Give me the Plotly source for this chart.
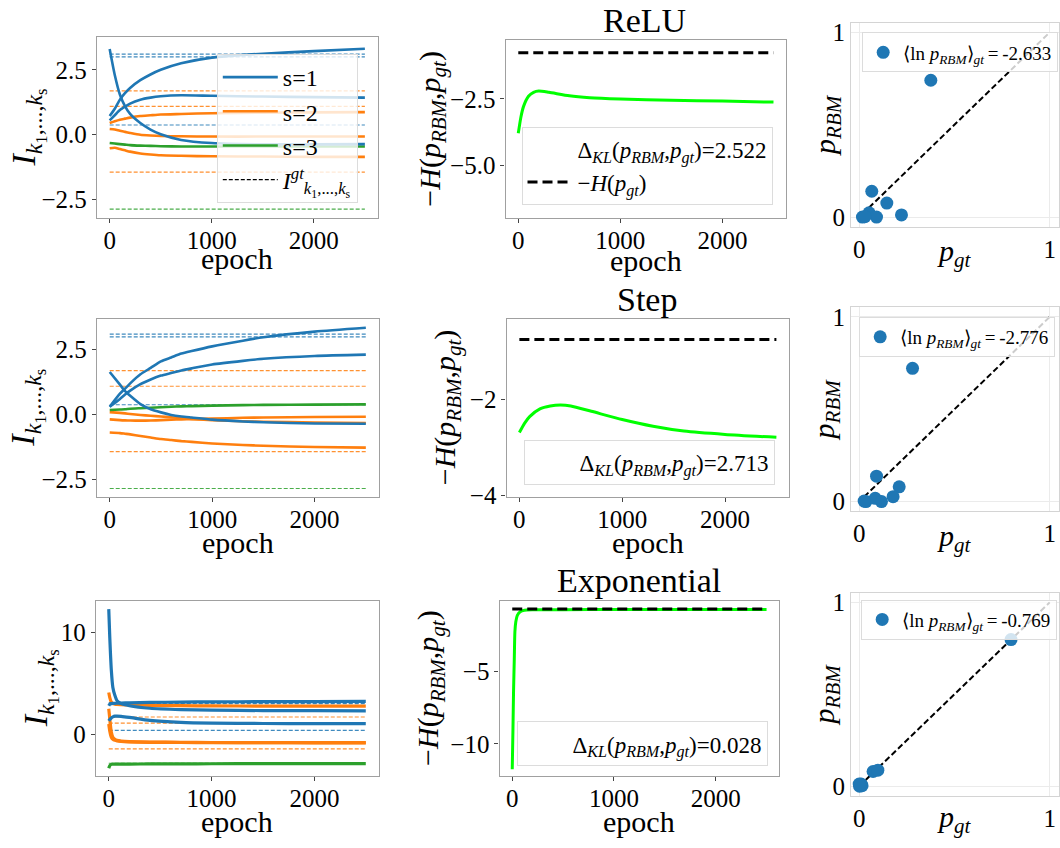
import plotly.graph_objects as go

W, H = 1060, 848
FONT = "Liberation Serif, Times New Roman, Times, serif"
BLUE, ORANGE, GREEN, LIME = "#1f77b4", "#ff7f0e", "#2ca02c", "#00ff00"

# ---------------- data ----------------
EPOCH_SPAN = [0, 2500]
EPOCH_TICKS = [0, 1000, 2000]
EPOCH_TICKTEXT = ["0", "1000", "2000"]

# ground-truth couplings (dashed)
GT_S1 = [3.1, 3.0, 0.375]
GT_S2 = [1.69, 1.09, -1.44]
GT_S3 = [-2.86]

# ReLU couplings
relu_ep = [0, 50, 100, 150, 200, 300, 400, 500, 700, 1000, 1500, 2000, 2500]
relu_s1 = [
    [3.3, 2.3, 1.55, 1.1, 0.8, 0.45, 0.2, 0.02, -0.2, -0.32, -0.37, -0.37, -0.36],
    [0.72, 1.0, 1.35, 1.6, 1.8, 2.1, 2.32, 2.5, 2.75, 2.97, 3.12, 3.22, 3.31],
    [0.55, 0.75, 0.95, 1.08, 1.2, 1.35, 1.43, 1.48, 1.52, 1.5, 1.47, 1.45, 1.43],
]
relu_s2 = [
    [0.45, 0.52, 0.58, 0.62, 0.66, 0.72, 0.75, 0.78, 0.8, 0.83, 0.85, 0.86, 0.87],
    [0.22, 0.2, 0.15, 0.11, 0.07, 0.0, -0.03, -0.05, -0.06, -0.07, -0.07, -0.07, -0.07],
    [-0.52, -0.5, -0.55, -0.6, -0.65, -0.72, -0.76, -0.79, -0.81, -0.83, -0.84, -0.85, -0.85],
]
relu_s3 = [
    [-0.32, -0.34, -0.36, -0.38, -0.4, -0.42, -0.43, -0.44, -0.45, -0.45, -0.45, -0.45, -0.45],
]

# Step couplings
step_ep = [0, 100, 150, 200, 300, 400, 500, 600, 700, 800, 1000, 1300, 1500, 2000, 2500]
step_s1 = [
    [1.64, 1.15, 0.9, 0.72, 0.4, 0.2, 0.08, -0.02, -0.08, -0.12, -0.2, -0.27, -0.3, -0.35, -0.36],
    [0.3, 0.8, 1.0, 1.2, 1.55, 1.8, 2.05, 2.2, 2.35, 2.45, 2.63, 2.85, 2.98, 3.2, 3.35],
    [0.3, 0.6, 0.77, 0.92, 1.17, 1.35, 1.5, 1.6, 1.7, 1.78, 1.93, 2.07, 2.15, 2.26, 2.31],
]
step_s2 = [
    [0.09, 0.06, 0.04, 0.02, -0.02, -0.05, -0.08, -0.11, -0.14, -0.17, -0.22, -0.26, -0.28, -0.31, -0.33],
    [-0.19, -0.22, -0.23, -0.235, -0.24, -0.235, -0.22, -0.2, -0.19, -0.18, -0.16, -0.13, -0.12, -0.1, -0.09],
    [-0.7, -0.72, -0.745, -0.77, -0.83, -0.89, -0.95, -0.99, -1.03, -1.06, -1.12, -1.18, -1.21, -1.26, -1.28],
]
step_s3 = [
    [0.17, 0.19, 0.2, 0.22, 0.24, 0.26, 0.28, 0.3, 0.31, 0.32, 0.34, 0.36, 0.37, 0.38, 0.39],
]

# Exponential couplings
exp_ep = [0, 10, 25, 40, 60, 80, 120, 200, 400, 700, 1000, 1500, 2000, 2500]
exp_s1 = [
    [12.3, 9.5, 6.3, 4.6, 3.8, 3.3, 3.0, 2.8, 2.55, 2.42, 2.36, 2.32, 2.31, 2.3],
    [2.8, 2.95, 3.0, 3.02, 3.03, 3.05, 3.06, 3.08, 3.12, 3.16, 3.18, 3.2, 3.21, 3.22],
    [1.3, 1.45, 1.6, 1.7, 1.77, 1.78, 1.75, 1.65, 1.35, 1.15, 1.08, 1.05, 1.04, 1.03],
]
exp_s2 = [
    [4.1, 3.6, 3.15, 3.0, 2.95, 2.92, 2.9, 2.87, 2.83, 2.8, 2.78, 2.76, 2.75, 2.75],
    [2.5, 1.5, 0.2, -0.3, -0.5, -0.6, -0.68, -0.74, -0.78, -0.8, -0.82, -0.83, -0.84, -0.84],
    [1.0, 0.3, -0.3, -0.5, -0.6, -0.66, -0.72, -0.76, -0.8, -0.82, -0.83, -0.84, -0.85, -0.86],
]
exp_s3 = [
    [-3.35, -3.1, -2.97, -2.95, -2.95, -2.95, -2.95, -2.94, -2.93, -2.92, -2.91, -2.9, -2.9, -2.9],
]

# cross entropy curves
relu_H_ep = [0, 25, 50, 100, 150, 200, 300, 500, 700, 1000, 1500, 2000, 2500]
relu_H = [-3.8, -3.2, -2.8, -2.4, -2.25, -2.2, -2.25, -2.38, -2.45, -2.5, -2.55, -2.58, -2.62]
step_H_ep = [0, 50, 100, 200, 300, 400, 500, 700, 1000, 1300, 1600, 2000, 2500]
step_H = [-2.69, -2.5, -2.36, -2.2, -2.14, -2.12, -2.14, -2.25, -2.42, -2.56, -2.66, -2.73, -2.79]
exp_H_ep = [0, 7, 13, 20, 26, 35, 50, 78, 120, 200, 500, 1000, 2500]
exp_H = [-11.75, -9.0, -6.3, -4.2, -2.3, -1.6, -1.15, -0.9, -0.8, -0.77, -0.76, -0.75, -0.75]
H_gt = [-0.755, -0.76, -0.72]
KL = ["2.522", "2.713", "0.028"]
LNP = ["-2.633", "-2.776", "-0.769"]

# probabilities
relu_pgt = [0.376, 0.066, 0.145, 0.222, 0.017, 0.052, 0.091, 0.03]
relu_prbm = [0.741, 0.14, 0.076, 0.012, 0.0, 0.023, 0.0, 0.002]
step_pgt = [0.28, 0.091, 0.21, 0.178, 0.035, 0.084, 0.117, 0.026]
step_prbm = [0.722, 0.138, 0.08, 0.027, 0.0, 0.018, 0.0, 0.003]
exp_pgt = [0.797, 0.073, 0.098, 0.01, 0.015, 0.005, 0.002, 0.0]
exp_prbm = [0.798, 0.08, 0.087, 0.012, 0.003, 0.008, 0.0, 0.012]
DIAG_END = 1.0

TITLES = ["ReLU", "Step", "Exponential"]
LEFT_YT = [([-2.5, 0, 2.5], ["\u22122.5", "0.0", "2.5"]),
           ([-2.5, 0, 2.5], ["\u22122.5", "0.0", "2.5"]),
           ([0, 10], ["0", "10"])]
MID_YT = [([-2.5, -5.0], ["\u22122.5", "\u22125.0"]),
          ([-2, -4], ["\u22122", "\u22124"]),
          ([-5, -10], ["\u22125", "\u221210"])]
P_TICKS = [0, 1]
P_TICKTEXT = ["0", "1"]

# ---------------- layout helpers ----------------
BOX = {1: (97, 378, 35, 219), 2: (506, 787, 38, 219), 3: (852, 1060, 20, 228),
       4: (97, 379, 322, 503), 5: (507, 790, 322, 503), 6: (852, 1060, 310, 518),
       7: (96, 379, 609, 788), 8: (500, 780, 609, 788), 9: (852, 1060, 601, 808)}
LEFT_YR = [[-3.2, 3.75], [-3.17, 3.69], [-4.13, 13.15]]
MID_YR = [[-7.0, -0.28], [-4.02, -0.33], [-12.23, -0.13]]
XR = [-125, 2625]
PXR = [-0.042, 1.049]
PYR = [-0.052, 1.053]

fig = go.Figure()


def ref(i):
    return ("x" if i == 1 else f"x{i}"), ("y" if i == 1 else f"y{i}")


def line(i, x, y, color, width, dash=None, name=None, legend="legend", showlegend=False,
         opacity=1.0, rank=1000):
    xa, ya = ref(i)
    fig.add_trace(go.Scatter(x=x, y=y, mode="lines", xaxis=xa, yaxis=ya,
                             line=dict(color=color, width=width, dash=dash, shape="spline",
                                       smoothing=0.6),
                             name=name, legend=legend, showlegend=showlegend, opacity=opacity,
                             legendrank=rank, hoverinfo="skip"))


rows = [
    (relu_ep, relu_s1, relu_s2, relu_s3, relu_H_ep, relu_H, relu_pgt, relu_prbm),
    (step_ep, step_s1, step_s2, step_s3, step_H_ep, step_H, step_pgt, step_prbm),
    (exp_ep, exp_s1, exp_s2, exp_s3, exp_H_ep, exp_H, exp_pgt, exp_prbm),
]
mid_legend = ["legend2", "legend4", "legend6"]
right_legend = ["legend3", "legend5", "legend7"]

for r, (ep, s1, s2, s3, hep, hv, pgt, prbm) in enumerate(rows):
    iL, iM, iR = r * 3 + 1, r * 3 + 2, r * 3 + 3
    lw = 3.2 if r == 2 else 2.6
    # dashed ground truth
    for v in GT_S1:
        line(iL, EPOCH_SPAN, [v, v], BLUE, 1.2, dash="4px,2px", opacity=0.85)
    for v in GT_S2:
        line(iL, EPOCH_SPAN, [v, v], ORANGE, 1.2, dash="4px,2px", opacity=0.85)
    for v in GT_S3:
        line(iL, EPOCH_SPAN, [v, v], GREEN, 1.2, dash="4px,2px", opacity=0.85)
    for k, arr in enumerate(s2):
        line(iL, ep, arr, ORANGE, lw, name="s=2", showlegend=(r == 0 and k == 0), rank=2)
    for k, arr in enumerate(s3):
        line(iL, ep, arr, GREEN, lw, name="s=3", showlegend=(r == 0 and k == 0), rank=3)
    for k, arr in enumerate(s1):
        line(iL, ep, arr, BLUE, lw, name="s=1", showlegend=(r == 0 and k == 0), rank=1)

    # middle
    line(iM, hep, hv, LIME, 3, legend=mid_legend[r])
    xa, ya = ref(iM)
    fig.add_trace(go.Scatter(
        x=[None], y=[None], mode="lines", xaxis=xa, yaxis=ya,
        line=dict(color="rgba(0,0,0,0)", width=1), legend=mid_legend[r], showlegend=True,
        legendrank=1,
        name="\u0394<sub><i>KL</i></sub>(<i>p</i><sub><i>RBM</i></sub>,<i>p</i><sub><i>gt</i></sub>)=" + KL[r]))
    fig.add_trace(go.Scatter(
        x=EPOCH_SPAN, y=[H_gt[r], H_gt[r]], mode="lines", xaxis=xa, yaxis=ya,
        line=dict(color="black", width=3, dash="10px,5px"), legend=mid_legend[r],
        showlegend=(r == 0), legendrank=2,
        name="\u2212<i>H</i>(<i>p</i><sub><i>gt</i></sub>)", hoverinfo="skip"))

    # right scatter
    xa, ya = ref(iR)
    fig.add_trace(go.Scatter(
        x=[min(pgt), DIAG_END], y=[min(pgt), DIAG_END], mode="lines", xaxis=xa, yaxis=ya,
        line=dict(color="black", width=2, dash="6px,3px"), showlegend=False, hoverinfo="skip"))
    fig.add_trace(go.Scatter(
        x=pgt, y=prbm, mode="markers", xaxis=xa, yaxis=ya,
        marker=dict(color=BLUE, size=13), legend=right_legend[r], showlegend=True,
        name="\u27e8ln <i>p</i><sub><i>RBM</i></sub>\u27e9<sub><i>gt</i></sub>\u2009=\u2009" + LNP[r]))

# legend entry for gt
fig.add_trace(go.Scatter(x=[None], y=[None], mode="lines", xaxis="x", yaxis="y",
                         line=dict(color="black", width=1.2, dash="4px,2px"), showlegend=True,
                         legend="legend", legendrank=4,
                         name="<i>I</i><sup><i>gt</i></sup><sub><i>k</i><sub>1</sub>,...,<i>k</i><sub>s</sub></sub>"))

layout = dict(width=W, height=H, margin=dict(l=0, r=0, t=0, b=0),
              paper_bgcolor="white", plot_bgcolor="white",
              font=dict(family=FONT, size=24, color="black"))

tick_font = dict(family=FONT, size=25, color="black")
for i in range(1, 10):
    x0, x1, y0, y1 = BOX[i]
    r, c = (i - 1) // 3, (i - 1) % 3
    xa = "xaxis" if i == 1 else f"xaxis{i}"
    ya = "yaxis" if i == 1 else f"yaxis{i}"
    yanchor = "y" if i == 1 else f"y{i}"
    xanchor = "x" if i == 1 else f"x{i}"
    xd = [x0 / W, min(x1 / W, 1.0)]
    yd = [1 - y1 / H, 1 - y0 / H]
    if c < 2:
        common = dict(showline=True, mirror=True, linecolor="#a0a0a0", linewidth=1.2,
                      showgrid=False, zeroline=False, ticks="outside", ticklen=4,
                      tickcolor="#444", tickfont=tick_font)
        yt = LEFT_YT[r] if c == 0 else MID_YT[r]
        yr = LEFT_YR[r] if c == 0 else MID_YR[r]
        layout[xa] = dict(domain=xd, anchor=yanchor, range=XR, tickvals=EPOCH_TICKS,
                          ticktext=EPOCH_TICKTEXT, ticklabelstandoff=-4, **common)
        layout[ya] = dict(domain=yd, anchor=xanchor, range=yr, tickvals=yt[0],
                          ticktext=yt[1], **common)
    else:
        common = dict(showline=True, mirror=True, linecolor="#d4d4d4", linewidth=1.2,
                      showgrid=True, gridcolor="#ebebeb", gridwidth=1, zeroline=False,
                      ticks="", tickfont=tick_font, ticklabeloverflow="allow")
        layout[xa] = dict(domain=xd, anchor=yanchor, range=PXR, tickvals=P_TICKS,
                          ticktext=P_TICKTEXT, **common)
        layout[ya] = dict(domain=yd, anchor=xanchor, range=PYR, tickvals=P_TICKS,
                          ticktext=P_TICKTEXT, **common)

leg_common = dict(xanchor="left", yanchor="top", bgcolor="rgba(255,255,255,0.8)",
                  bordercolor="#dcdcdc", borderwidth=1)
layout["legend"] = dict(x=217 / W, y=1 - 52 / H, font=dict(family=FONT, size=24),
                        traceorder="normal", itemwidth=55, **leg_common)
layout["legend2"] = dict(x=522 / W, y=1 - 126 / H, font=dict(family=FONT, size=23),
                         itemwidth=45, **leg_common)
layout["legend4"] = dict(x=524 / W, y=1 - 445 / H, font=dict(family=FONT, size=23),
                         itemwidth=45, **leg_common)
layout["legend6"] = dict(x=517 / W, y=1 - 732 / H, font=dict(family=FONT, size=23),
                         itemwidth=45, **leg_common)
layout["legend3"] = dict(x=863 / W, y=1 - 30 / H, font=dict(family=FONT, size=19), **leg_common)
layout["legend5"] = dict(x=860 / W, y=1 - 320 / H, font=dict(family=FONT, size=19), **leg_common)
layout["legend7"] = dict(x=862 / W, y=1 - 608 / H, font=dict(family=FONT, size=19), **leg_common)

ann = []


def text(X, Y, s, size, angle=0):
    ann.append(dict(x=X / W, y=1 - Y / H, xref="paper", yref="paper", text=s, showarrow=False,
                    xanchor="center", yanchor="middle", textangle=angle,
                    font=dict(family=FONT, size=size, color="black")))


I_LABEL = "<i>I</i><sub><i>k</i><sub>1</sub>,...,<i>k</i><sub>s</sub></sub>"
H_LABEL = "\u2212<i>H</i>(<i>p</i><sub><i>RBM</i></sub>,<i>p</i><sub><i>gt</i></sub>)"
PR_LABEL = "<i>p</i><sub><i>RBM</i></sub>"
PG_LABEL = "<i>p</i><sub><i>gt</i></sub>"

title_y = [18, 302, 589]
title_x = [645, 648, 640]
epoch_yL = [260, 550, 834]
epoch_yM = [262, 550, 834]
ytitle_xL = [28, 27, 40]
ytitle_xM = [432, 447, 431]
pgt_y = [255, 545, 832]
for r in range(3):
    bL, bM, bR = BOX[r * 3 + 1], BOX[r * 3 + 2], BOX[r * 3 + 3]
    text(title_x[r], title_y[r], TITLES[r], 34)
    text((bL[0] + bL[1]) / 2, epoch_yL[r], "epoch", 30)
    text((bM[0] + bM[1]) / 2, epoch_yM[r], "epoch", 30)
    text(ytitle_xL[r], (bL[2] + bL[3]) / 2, I_LABEL, 34, -90)
    text(ytitle_xM[r], (bM[2] + bM[3]) / 2, H_LABEL, 30, -90)
    text(827, (bR[2] + bR[3]) / 2, PR_LABEL, 30, -90)
    text(955, pgt_y[r], PG_LABEL, 30)

layout["annotations"] = ann
fig.update_layout(**layout)
fig.write_html("out.html", config={"displayModeBar": False},
               post_script="document.body.style.margin='0px';")
